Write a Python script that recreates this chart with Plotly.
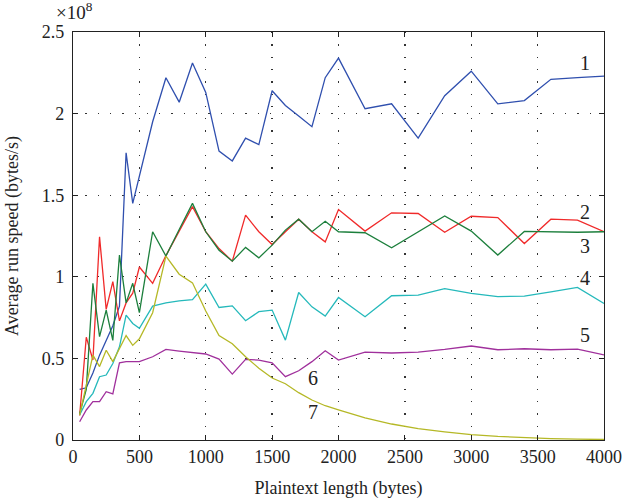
import plotly.graph_objects as go

# Plaintext length (bytes)
x_len = [50, 100, 150, 200, 250, 300, 350, 400, 450, 500,
         600, 700, 800, 900, 1000, 1100, 1200, 1300, 1400, 1500,
         1600, 1700, 1800, 1900, 2000, 2200, 2400, 2600, 2800, 3000,
         3200, 3400, 3600, 3800, 4000]

# Average run speed, in units of 1e8 bytes/s
s1 = [0.31, 0.32, 0.41, 0.52, 0.61, 0.70, 0.82, 1.76, 1.45, 1.62,
      1.95, 2.22, 2.07, 2.31, 2.13, 1.77, 1.71, 1.85, 1.81, 2.14,
      2.05, 1.985, 1.92, 2.22, 2.34, 2.03, 2.06, 1.85, 2.11, 2.26,
      2.06, 2.08, 2.21, 2.22, 2.23]
s2 = [0.15, 0.63, 0.49, 1.245, 0.80, 0.97, 0.73, 0.84, 0.90, 1.06,
      0.96, 1.13, 1.28, 1.43, 1.276, 1.173, 1.096, 1.378, 1.276, 1.198,
      1.276, 1.353, 1.276, 1.214, 1.412, 1.28, 1.392, 1.388, 1.273, 1.371,
      1.363, 1.204, 1.353, 1.347, 1.276]
s3 = [0.16, 0.31, 0.96, 0.633, 0.796, 0.61, 1.133, 0.84, 0.96, 0.78,
      1.276, 1.127, 1.29, 1.45, 1.276, 1.163, 1.096, 1.18, 1.116, 1.194,
      1.286, 1.353, 1.276, 1.34, 1.276, 1.27, 1.178, 1.276, 1.373, 1.28,
      1.133, 1.278, 1.276, 1.273, 1.276]
s4 = [0.153, 0.235, 0.286, 0.388, 0.398, 0.469, 0.571, 0.765, 0.714, 0.684,
      0.82, 0.84, 0.853, 0.86, 0.955, 0.812, 0.822, 0.731, 0.786, 0.796,
      0.612, 0.904, 0.816, 0.759, 0.873, 0.755, 0.884, 0.888, 0.927, 0.898,
      0.878, 0.882, 0.908, 0.935, 0.837]
s5 = [0.112, 0.184, 0.235, 0.235, 0.296, 0.282, 0.473, 0.48, 0.48, 0.48,
      0.51, 0.555, 0.545, 0.535, 0.527, 0.496, 0.404, 0.494, 0.49, 0.473,
      0.388, 0.424, 0.48, 0.547, 0.49, 0.539, 0.533, 0.539, 0.555, 0.576,
      0.553, 0.559, 0.553, 0.557, 0.522]
s6 = [0.153, 0.34, 0.52, 0.45, 0.55, 0.48, 0.56, 0.64, 0.58, 0.62,
      0.78, 1.127, 1.016, 0.963, 0.79, 0.64, 0.59, 0.51, 0.44, 0.38,
      0.345, 0.29, 0.245, 0.21, 0.185, 0.135, 0.098, 0.07, 0.05, 0.033,
      0.022, 0.014, 0.009, 0.005, 0.003]

series = [s1, s2, s3, s4, s5, s6]
colors = ["#2f4fae", "#f02a2a", "#1c7f3c", "#25b9bb", "#a0309c", "#b5b826"]

# curve labels: (text, x, y)
label_text = ["1", "2", "3", "4", "5", "6", "7"]
label_x = [3860, 3860, 3860, 3860, 3860, 1806, 1806]
label_y = [2.31, 1.40, 1.19, 0.99, 0.645, 0.38, 0.17]

x_ticks = [0, 500, 1000, 1500, 2000, 2500, 3000, 3500, 4000]
y_ticks = [0, 0.5, 1, 1.5, 2, 2.5]
y_tick_text = ["0", "0.5", "1", "1.5", "2", "2.5"]

FONT = "Liberation Serif"
INK = "#222"

fig = go.Figure()
for s, c in zip(series, colors):
    fig.add_trace(go.Scatter(x=x_len, y=s, mode="lines",
                             line=dict(color=c, width=1.3), showlegend=False,
                             hoverinfo="skip"))

for t, lx, ly in zip(label_text, label_x, label_y):
    fig.add_annotation(x=lx, y=ly, text=t, showarrow=False,
                       font=dict(family=FONT, size=20, color=INK))

fig.add_annotation(xref="paper", yref="paper", x=-0.036, y=1.0, xanchor="left",
                   yanchor="bottom", yshift=7, showarrow=False,
                   text="×10<sup>8</sup>", font=dict(family=FONT, size=19, color=INK))

axis_common = dict(showline=True, linecolor=INK, linewidth=1.2, mirror="ticks",
                   ticks="inside", ticklen=5, tickcolor=INK, tickwidth=1.2,
                   showgrid=True, gridcolor="#333", griddash="1.3px,11px", gridwidth=1.3,
                   zeroline=False, automargin=False,
                   tickfont=dict(family=FONT, size=18, color=INK))

fig.update_xaxes(range=[0, 4000], tickvals=x_ticks,
                 title=dict(text="Plaintext length (bytes)",
                            font=dict(family=FONT, size=18, color=INK), standoff=15),
                 **axis_common)
fig.update_yaxes(range=[0, 2.5], tickvals=y_ticks, ticktext=y_tick_text,
                 ticklabelstandoff=4,
                 title=dict(text="Average run speed (bytes/s)",
                            font=dict(family=FONT, size=18, color=INK), standoff=18),
                 **axis_common)

fig.update_layout(width=624, height=503, plot_bgcolor="white", paper_bgcolor="white",
                  margin=dict(l=73, r=20, t=32, b=63, autoexpand=False),
                  font=dict(family=FONT), hovermode=False)

# remove the default page margin so the 624x503 figure fills the window exactly
page_fix = ("document.body.style.margin='0';"
            "document.documentElement.style.overflow='hidden';"
            "document.body.style.overflow='hidden';")

fig.write_html("out.html", post_script=page_fix,
               config={"displayModeBar": False, "staticPlot": True})
